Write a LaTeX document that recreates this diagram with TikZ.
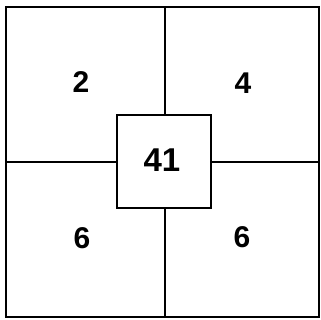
\documentclass[tikz,border=0pt]{standalone}
\usepackage{fontspec}
\setmainfont{Liberation Sans}
\usetikzlibrary{positioning}

\begin{document}
\begin{tikzpicture}[
    x=1pt, y=-1pt,
    grid line/.style={line width=2.6pt, black},
    number label/.style={font=\fontsize{30}{30}\selectfont\bfseries, inner sep=0pt},
    center box/.style={draw, line width=2.6pt, minimum width=94pt, minimum height=93pt, inner sep=0pt}
]

% Fixed frame of the picture
\useasboundingbox (0,0) rectangle (320,320);

% =============================================
% Outer square and its side midpoints
% =============================================
\draw[grid line] (6,7) rectangle (319,317);
\coordinate (top mid) at (165,7);
\coordinate (bottom mid) at (165,317);
\coordinate (left mid) at (6,162);
\coordinate (right mid) at (319,162);

% Center box and its number
\node[center box] (middle) at (164,161.5) {};
\node[number label, font=\fontsize{33}{33}\selectfont\bfseries] (center number) at (162,160) {41};

% Dividing lines from the frame to the center box
\draw[grid line] (top mid) -- (top mid |- middle.north);
\draw[grid line] (bottom mid) -- (bottom mid |- middle.south);
\draw[grid line] (left mid) -- (left mid -| middle.west);
\draw[grid line] (right mid) -- (right mid -| middle.east);

% =============================================
% Quadrant numbers
% =============================================
\node[number label] (upper left) at (81,82) {2};
\node[number label] (upper right) at (243,83) {4};
\node[number label] (lower left) at (82,238) {6};
\node[number label] (lower right) at (242,237) {6};

\end{tikzpicture}
\end{document}
